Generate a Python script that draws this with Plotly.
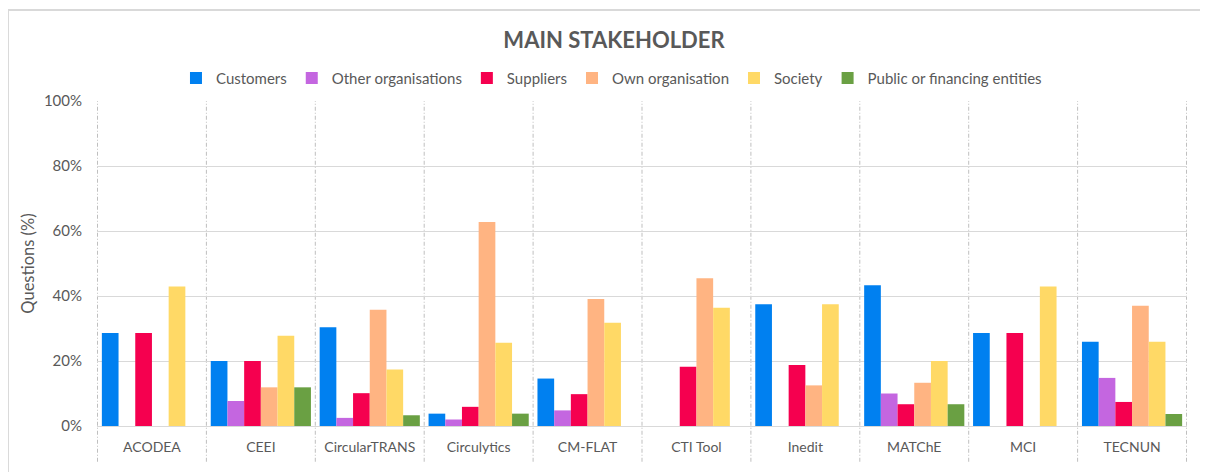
import plotly.graph_objects as go

categories = ["ACODEA", "CEEI", "CircularTRANS", "Circulytics", "CM-FLAT",
              "CTI Tool", "Inedit", "MATChE", "MCI", "TECNUN"]

customers = [28.6, 20.0, 30.4, 3.8, 14.6, 0.0, 37.5, 43.3, 28.6, 25.9]
other_orgs = [0.0, 7.7, 2.5, 2.0, 4.8, 0.0, 0.0, 10.0, 0.0, 14.8]
suppliers = [28.6, 20.0, 10.1, 5.9, 9.8, 18.2, 18.8, 6.7, 28.6, 7.4]
own_org = [0.0, 11.9, 35.8, 62.8, 39.1, 45.5, 12.5, 13.3, 0.0, 37.0]
society = [42.9, 27.8, 17.4, 25.6, 31.8, 36.4, 37.5, 20.0, 42.9, 25.9]
public_fin = [0.0, 11.9, 3.3, 3.8, 0.0, 0.0, 0.0, 6.7, 0.0, 3.7]

series = [
    ("Customers", customers, "#0080F0"),
    ("Other organisations", other_orgs, "#C466E0"),
    ("Suppliers", suppliers, "#F5004F"),
    ("Own organisation", own_org, "#FFB482"),
    ("Society", society, "#FFD966"),
    ("Public or financing entities", public_fin, "#6AA043"),
]

FONT = "Lato, 'Open Sans', sans-serif"
GREY = "#595959"

fig = go.Figure()
for name, vals, col in series:
    fig.add_trace(go.Bar(
        x=categories, y=vals, name=name,
        marker=dict(color=col, line=dict(width=0)),
    ))

shapes = []
for i in range(len(categories) + 1):
    shapes.append(dict(
        type="line", xref="x", yref="paper",
        x0=i - 0.5, x1=i - 0.5, y0=-0.11, y1=1,
        line=dict(color="#BFBFBF", width=1, dash="4px,2px,1px,2px"),
        layer="below",
    ))
# outer chart border
shapes.append(dict(
    type="rect", xref="paper", yref="paper",
    x0=-0.0817, x1=1.2, y0=-0.5, y1=1.28,
    line=dict(color="#D9D9D9", width=2), fillcolor="rgba(0,0,0,0)",
))

# page body adds an 8px offset, so the figure is 8px smaller than the window
fig.update_layout(
    width=1200, height=464,
    margin=dict(l=89, r=21, t=93, b=46),
    paper_bgcolor="white", plot_bgcolor="white",
    barmode="group", bargap=0.08, bargroupgap=0,
    font=dict(family=FONT, color=GREY, size=14),
    title=dict(text="<b>MAIN STAKEHOLDER</b>", x=0.505, xanchor="center",
               y=0.93, yanchor="middle",
               font=dict(family=FONT, size=22, color=GREY)),
    legend=dict(orientation="h", x=0.472, xanchor="center", y=1.07,
                yanchor="middle", itemwidth=30,
                font=dict(family=FONT, size=15, color=GREY),
                traceorder="normal"),
    shapes=shapes,
    showlegend=True,
)
fig.update_xaxes(showgrid=False, showline=False, ticks="",
                 tickfont=dict(size=14, color=GREY), ticklabelstandoff=11)
fig.update_yaxes(range=[0, 100], dtick=20, ticksuffix="%",
                 showgrid=True, gridcolor="#D9D9D9", gridwidth=1,
                 zeroline=True, zerolinecolor="#D9D9D9", zerolinewidth=1,
                 showline=False, ticks="", ticklabelstandoff=14,
                 tickfont=dict(size=15, color=GREY),
                 title=dict(text="Questions (%)", standoff=5,
                            font=dict(size=16.5, color=GREY)))

fig.write_html("out.html")
